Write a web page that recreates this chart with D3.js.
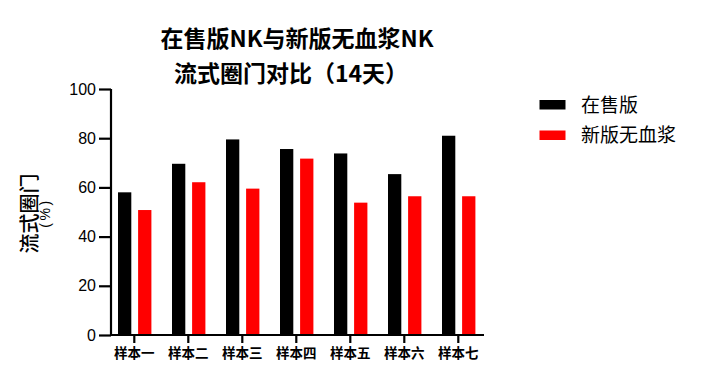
<!DOCTYPE html>
<html><head><meta charset="utf-8">
<script src="https://cdn.jsdelivr.net/npm/d3@7"></script>
<style>body{margin:0;background:#fff}svg{display:block}</style>
</head><body>
<script>
const categories = ["样本一","样本二","样本三","样本四","样本五","样本六","样本七"];
const seriesNames = ["在售版","新版无血浆"];
const onSale = [58.0, 69.6, 79.5, 75.6, 73.8, 65.4, 81.0];
const newPlasmaFree = [50.8, 62.1, 59.5, 71.7, 53.8, 56.4, 56.4];
const yTicks = [0, 20, 40, 60, 80, 100];
const colors = ["#000000", "#ff0000"];

const W = 702, H = 379;
const svg = d3.select("body").append("svg").attr("width", W).attr("height", H);
const cjk = "'Noto Sans CJK SC', 'Noto Sans', sans-serif";
const latin = "'Liberation Sans', Arial, sans-serif";

const y = d3.scaleLinear().domain([0, 100]).range([335, 89]);
const x = d3.scaleBand().domain(categories).range([107.3, 485.3]);
const bw = 13.3;

const series = [onSale, newPlasmaFree];
series.forEach((vals, si) => {
  svg.append("g").selectAll("rect").data(vals).join("rect")
    .attr("x", (d, i) => x(categories[i]) + x.bandwidth() / 2 + (si === 0 ? -16.3 : 3.8))
    .attr("y", d => y(d))
    .attr("width", bw)
    .attr("height", d => y(0) - y(d))
    .attr("fill", colors[si]);
});

// Y axis
const yAxis = svg.append("g").attr("transform", "translate(111,0)")
  .call(d3.axisLeft(y).tickValues(yTicks).tickSize(12).tickPadding(3));
yAxis.select(".domain").attr("d", "M0," + y(100) + "V" + y(0)).attr("stroke", "#000").attr("stroke-width", 2.2);
yAxis.selectAll(".tick line").attr("stroke", "#000").attr("stroke-width", 2.2);
yAxis.selectAll(".tick text").attr("font-family", latin).attr("font-size", 16).attr("fill", "#000");

// X axis
const xAxis = svg.append("g").attr("transform", "translate(0,335)")
  .call(d3.axisBottom(x).tickSize(8).tickPadding(5));
xAxis.select(".domain").attr("d", "M110,0H484").attr("stroke", "#000").attr("stroke-width", 2.2);
xAxis.selectAll(".tick line").attr("stroke", "#000").attr("stroke-width", 2.2);
xAxis.selectAll(".tick text").attr("font-family", cjk).attr("font-size", 13.5).attr("font-weight", "bold").attr("fill", "#000");

// Y label
svg.append("text").attr("transform", "translate(37,213.5) rotate(-90)")
  .attr("text-anchor", "middle").attr("font-family", cjk).attr("font-size", 20).attr("font-weight", 500)
  .text("流式圈门");
svg.append("text").attr("transform", "translate(50,213) rotate(-90)")
  .attr("text-anchor", "middle").attr("font-family", latin).attr("font-size", 14).attr("letter-spacing", 2.5)
  .text("(%)");

// Title
svg.append("text").attr("x", 297).attr("y", 47).attr("text-anchor", "middle")
  .attr("font-family", cjk).attr("font-size", 23).attr("font-weight", "bold")
  .text("在售版NK与新版无血浆NK");
svg.append("text").attr("x", 291).attr("y", 82).attr("text-anchor", "middle")
  .attr("font-family", cjk).attr("font-size", 23).attr("font-weight", "bold")
  .text("流式圈门对比（14天）");

// Legend
const lg = svg.append("g");
seriesNames.forEach((n, i) => {
  lg.append("rect").attr("x", 539.5).attr("y", 100 + i * 30.5).attr("width", 26).attr("height", 9.5).attr("fill", colors[i]);
  lg.append("text").attr("x", 581).attr("y", 105 + i * 30.5).attr("dy", "0.36em")
    .attr("font-family", cjk).attr("font-size", 19).text(n);
});
</script>
</body></html>
